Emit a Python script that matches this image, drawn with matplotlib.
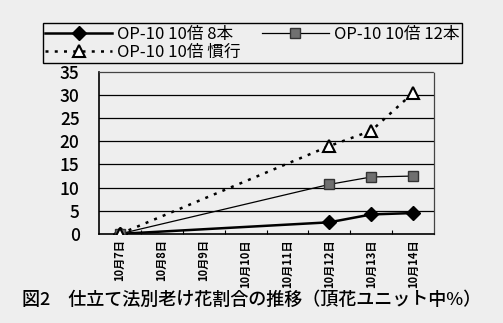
import numpy as np
import matplotlib
matplotlib.use("Agg")
import matplotlib.pyplot as plt

plt.rcParams['font.family'] = ['Noto Sans CJK JP', 'DejaVu Sans']

dates = ["10月7日", "10月8日", "10月9日", "10月10日",
         "10月11日", "10月12日", "10月13日", "10月14日"]
# 観測日以外は欠測
hon8 = [0.0, None, None, None, None, 2.5, 4.2, 4.5]
hon12 = [0.0, None, None, None, None, 10.7, 12.3, 12.5]
kanko = [0.0, None, None, None, None, 19.0, 22.3, 30.5]
labels = ["OP-10 10倍 8本", "OP-10 10倍 12本", "OP-10 10倍 慣行"]
caption = "図2　仕立て法別老け花割合の推移（頂花ユニット中%）"

bg = "#eeeeee"
fig = plt.figure(figsize=(5.03, 3.23), dpi=100, facecolor=bg)
ax = fig.add_axes([0.197, 0.276, 0.666, 0.501], facecolor=bg)


def valid(vals):
    idx = [i for i, v in enumerate(vals) if v is not None]
    return idx, [vals[i] for i in idx]


x1, y1 = valid(hon8)
x2, y2 = valid(hon12)
x3, y3 = valid(kanko)

l1, = ax.plot(x1, y1, color="black", lw=1.8, marker="D", ms=7,
              mfc="black", mec="black", label=labels[0], zorder=4)
l2, = ax.plot(x2, y2, color="black", lw=0.9, marker="s", ms=7,
              mfc="#707070", mec="#333333", label=labels[1], zorder=4)
l3, = ax.plot(x3, y3, color="black", lw=1.8, ls=(0, (1.2, 2.5)), marker="^", ms=9,
              mfc="white", mec="black", mew=1.5, label=labels[2], zorder=4)

ax.set_ylim(0, 35)
ax.set_yticks(range(0, 36, 5))
ax.set_xlim(-0.5, len(dates) - 0.5)
ax.set_xticks(range(len(dates)))
ax.set_xticklabels(dates, rotation=90, fontsize=8, fontweight="bold")
ax.set_xticks(np.arange(0.5, len(dates) - 0.5, 1), minor=True)
ax.tick_params(axis="x", which="major", length=0, pad=4)
ax.tick_params(axis="x", which="minor", length=3, direction="in", width=0.8)
ax.tick_params(axis="y", length=0, pad=14, labelsize=12.5)
for t in ax.get_yticklabels():
    t.set_fontweight("medium")

for v in range(5, 35, 5):
    ax.axhline(v, color="black", lw=0.9, zorder=1)

for side in ["left", "bottom"]:
    ax.spines[side].set_color("black")
    ax.spines[side].set_linewidth(1.2)
for side in ["top", "right"]:
    ax.spines[side].set_color("#444444")
    ax.spines[side].set_linewidth(0.9)
    ax.spines[side].set_linestyle((0, (1, 1)))

leg = fig.legend([l1, l3, l2], [labels[0], labels[2], labels[1]], ncol=2,
                 loc="lower left", bbox_to_anchor=(0.085, 0.805, 0.833, 0.136),
                 mode="expand", fontsize=12, handlelength=4.0,
                 frameon=True, fancybox=False, edgecolor="black",
                 facecolor=bg, framealpha=1, borderpad=0.15,
                 labelspacing=0.05, handletextpad=0.3, borderaxespad=0,
                 columnspacing=0.5)
leg.get_frame().set_linewidth(1.0)

fig.text(0.5, 0.072, caption, ha="center", va="center",
         fontsize=13, fontweight="medium")

fig.savefig("out.png", dpi=100, facecolor=bg)
